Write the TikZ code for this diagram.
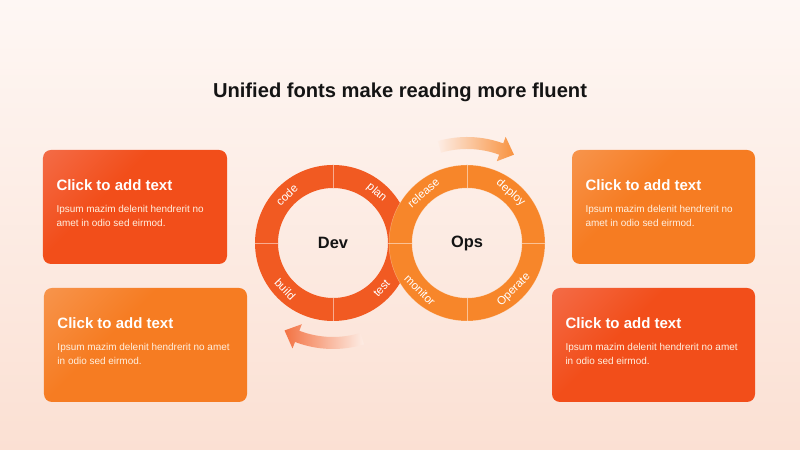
\documentclass[tikz,border=0pt]{standalone}
\usepackage{fontspec}
\setmainfont{Liberation Sans}
\usepackage{tikz}
\usetikzlibrary{positioning,calc}
\definecolor{bgtop}{HTML}{FEF7F4}
\definecolor{bgbot}{HTML}{FBE0D3}
\definecolor{cardred}{HTML}{F24E1A}
\definecolor{cardredlight}{HTML}{F47C60}
\definecolor{cardorange}{HTML}{F67C22}
\definecolor{cardorangelight}{HTML}{F8A264}
\definecolor{devred}{HTML}{F15A22}
\definecolor{opsorange}{HTML}{F7862A}
\definecolor{arrfade}{HTML}{FDEDE5}
\pgfdeclarehorizontalshading{redfade}{100bp}{color(0bp)=(cardredlight); color(40bp)=(cardred); color(100bp)=(cardred)}
\pgfdeclarehorizontalshading{orangefade}{100bp}{color(0bp)=(cardorangelight); color(40bp)=(cardorange); color(100bp)=(cardorange)}
\tikzset{
  card/.style={shade,rounded corners=2.4mm,inner sep=0pt,minimum height=34.2mm,shading angle=-45},
  redcard/.style={card,shading=redfade},
  orangecard/.style={card,shading=orangefade},
  head/.style={anchor=west,inner sep=0pt,text=white,font=\fontsize{12.8}{15}\selectfont\bfseries},
  body/.style={anchor=north west,inner sep=0pt,align=left,text=white!88!orange,font=\fontsize{8.5}{11.9}\selectfont},
  ring/.style={circle,draw=#1,line width=6.9mm,minimum size=39.9mm,text=black!92,font=\fontsize{14}{16}\selectfont\bfseries},
  lbl/.style={inner sep=0pt,text=white,font=\fontsize{9.8}{11}\selectfont},
  sep/.style={draw=white,opacity=0.5,line width=0.5pt},
}

\begin{document}
\begin{tikzpicture}[x=0.3mm,y=0.3mm]
\useasboundingbox (0,0) rectangle (800,450);
\shade[top color=bgtop,bottom color=bgbot] (0,0) rectangle (800,450);

\node[font=\fontsize{17.2}{20}\selectfont\bfseries,text=black!92,anchor=base] (title) at (400,352.7) {Unified fonts make reading more fluent};

% text cards
\node[redcard,minimum width=55.2mm] (c1) at (135,243) {};
\node[orangecard,minimum width=60.9mm] (c2) at (145.5,105) {};
\node[orangecard,minimum width=54.9mm] (c3) at (663.5,243) {};
\node[redcard,minimum width=60.9mm] (c4) at (653.5,105) {};

\node[head] (h1) at ($(c1.north west)+(13.5,-35)$) {Click to add text};
\node[body] (b1) at ($(c1.north west)+(13.5,-55.5)$) {Ipsum mazim delenit hendrerit no\\amet in odio sed eirmod.};
\node[head] (h2) at ($(c2.north west)+(13.5,-35)$) {Click to add text};
\node[body] (b2) at ($(c2.north west)+(13.5,-55.5)$) {Ipsum mazim delenit hendrerit no amet\\in odio sed eirmod.};
\node[head] (h3) at ($(c3.north west)+(13.5,-35)$) {Click to add text};
\node[body] (b3) at ($(c3.north west)+(13.5,-55.5)$) {Ipsum mazim delenit hendrerit no\\amet in odio sed eirmod.};
\node[head] (h4) at ($(c4.north west)+(13.5,-35)$) {Click to add text};
\node[body] (b4) at ($(c4.north west)+(13.5,-55.5)$) {Ipsum mazim delenit hendrerit no amet\\in odio sed eirmod.};

% the two loops
\node[ring=devred] (dev) at (333,207) {Dev};
\foreach \a in {0,90,180,270}
  \draw[sep] ($(dev)+(\a:55)$) -- ($(dev)+(\a:78)$);
\node[ring=opsorange] (ops) at (467,207) {Ops};
\draw[draw=white,opacity=0.35,line width=0.4pt] (ops) circle (55) (ops) circle (78);
\foreach \a in {0,90,180,270}
  \draw[sep] ($(ops)+(\a:55)$) -- ($(ops)+(\a:78)$);

\node[lbl,rotate=44] (code) at ($(dev)+(134:66.5)$) {code};
\node[lbl,rotate=-41] (plan) at ($(dev)+(49:66.5)$) {plan};
\node[lbl,rotate=-46] (build) at ($(dev)+(224:66.5)$) {build};
\node[lbl,rotate=47] (test) at ($(dev)+(-43:66.5)$) {test};
\node[lbl,rotate=41] (release) at ($(ops)+(131:66.5)$) {release};
\node[lbl,rotate=-41] (deploy) at ($(ops)+(49:66.5)$) {deploy};
\node[lbl,rotate=-45] (monitor) at ($(ops)+(225:66.5)$) {monitor};
\node[lbl,rotate=45] (operate) at ($(ops)+(-45:66.5)$) {Operate};

% cycle arrows
\shade[left color=arrfade,right color=opsorange!90!white]
  ($(ops)+(106:94)$) arc (106:70:94) -- ($(ops)+(70:87)$) -- ($(ops)+(62:100)$)
  -- ($(ops)+(70:113)$) -- ($(ops)+(70:106)$) arc (70:106:106) -- cycle;
\shade[left color=devred!85!white,right color=arrfade]
  ($(dev)+(-73:94)$) arc (-73:-111:94) -- ($(dev)+(-111:87)$) -- ($(dev)+(-119:100)$)
  -- ($(dev)+(-111:113)$) -- ($(dev)+(-111:106)$) arc (-111:-73:106) -- cycle;
\end{tikzpicture}
\end{document}
